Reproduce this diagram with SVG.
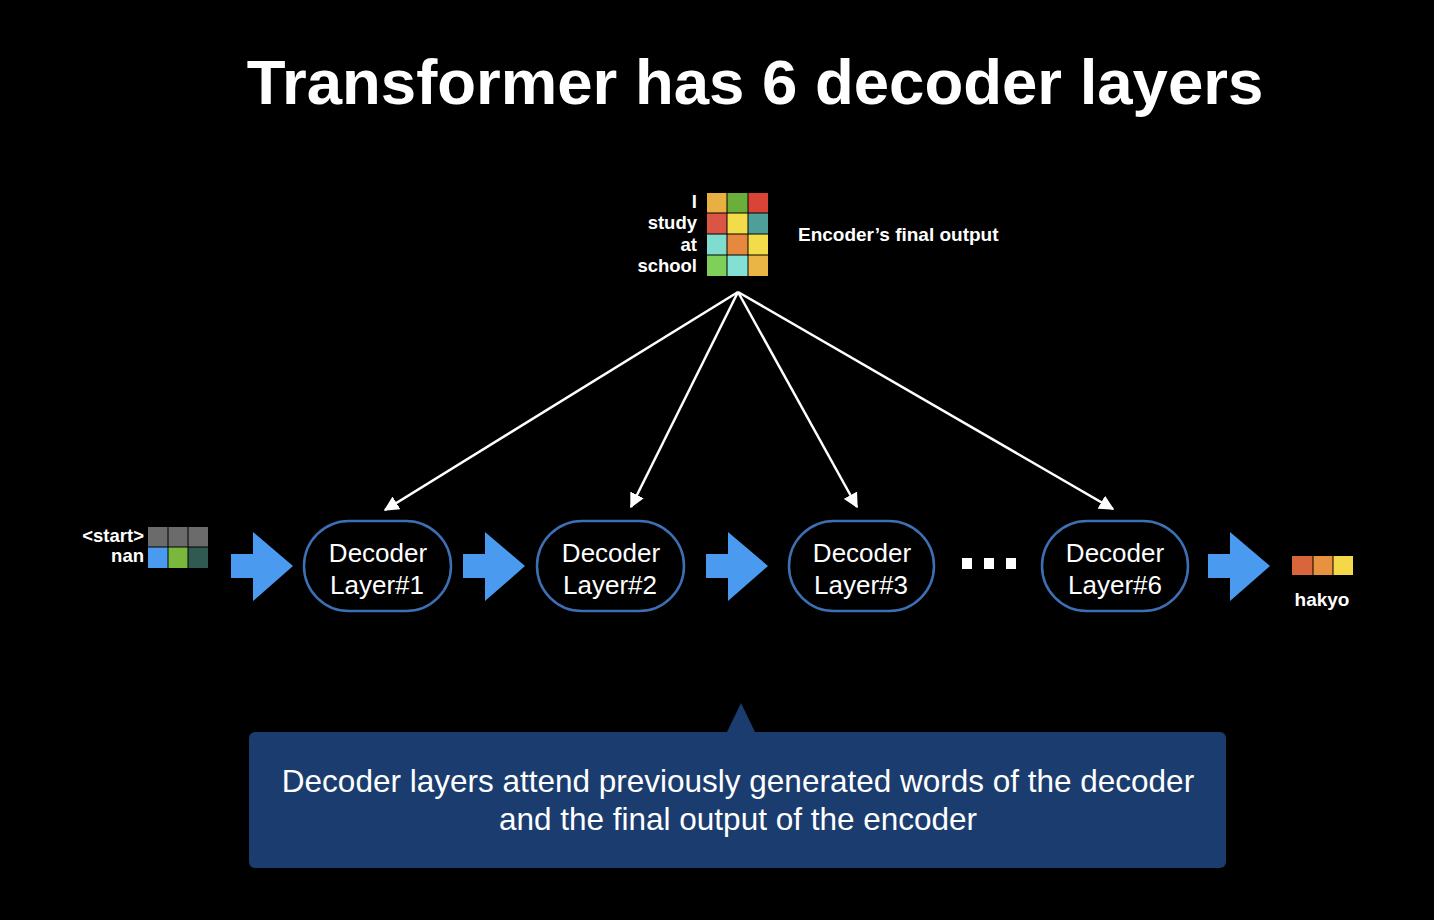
<svg xmlns="http://www.w3.org/2000/svg" width="1434" height="920" viewBox="0 0 1434 920">
<defs>
<style>
.t{font-family:"Liberation Sans",Arial,sans-serif;fill:#fff}
.node{fill:#000;stroke:#3C6FB4;stroke-width:2.5}
.nt{font-family:"Liberation Sans",Arial,sans-serif;fill:#fff;font-size:26px;text-anchor:middle}
.lbl{font-family:"Liberation Sans",Arial,sans-serif;fill:#fff;font-size:18.5px;font-weight:bold;text-anchor:end}
.conn{stroke:#fff;stroke-width:2.5;fill:none}
.barrow{fill:#4A9BEF}
</style>
<marker id="ah" viewBox="0 0 10 10" refX="9" refY="5" markerWidth="6" markerHeight="6" markerUnits="strokeWidth" orient="auto">
<path d="M0,0 L10,5 L0,10 z" fill="#fff"/>
</marker>
<path id="bar" d="M0,-12 L22,-12 L22,-34 L62,0 L22,35 L22,12 L0,12 z"/>
</defs>
<rect width="1434" height="920" fill="#000"/>

<text class="t" x="755" y="104" font-size="63.5" font-weight="bold" text-anchor="middle">Transformer has 6 decoder layers</text>

<g id="encoder-output">
<rect x="707" y="193" width="20" height="20" fill="#E8B040"/>
<rect x="727" y="193" width="21" height="20" fill="#6AAF3A"/>
<rect x="748" y="193" width="20" height="20" fill="#D94437"/>
<rect x="707" y="213" width="20" height="21" fill="#DB5544"/>
<rect x="727" y="213" width="21" height="21" fill="#F2DC4A"/>
<rect x="748" y="213" width="20" height="21" fill="#4E9E99"/>
<rect x="707" y="234" width="20" height="21" fill="#7FDCCF"/>
<rect x="727" y="234" width="21" height="21" fill="#E6883D"/>
<rect x="748" y="234" width="20" height="21" fill="#F3DC4A"/>
<rect x="707" y="255" width="20" height="21" fill="#7ED05A"/>
<rect x="727" y="255" width="21" height="21" fill="#84E0D4"/>
<rect x="748" y="255" width="20" height="21" fill="#EAB545"/>
<g stroke="#000" stroke-width="1" fill="none"><path d="M727,193V276M748,193V276M707,213H768M707,234H768M707,255H768"/></g>
<text class="lbl" x="697" y="208">I</text>
<text class="lbl" x="697" y="229">study</text>
<text class="lbl" x="697" y="251">at</text>
<text class="lbl" x="697" y="272">school</text>
<text class="t" x="798" y="241" font-size="19" font-weight="bold">Encoder’s final output</text>
</g>

<g id="connectors">
<line class="conn" x1="738" y1="292" x2="385" y2="510" marker-end="url(#ah)"/>
<line class="conn" x1="738" y1="292" x2="631" y2="507" marker-end="url(#ah)"/>
<line class="conn" x1="738" y1="292" x2="857" y2="507" marker-end="url(#ah)"/>
<line class="conn" x1="738" y1="292" x2="1113" y2="509" marker-end="url(#ah)"/>
<use href="#bar" class="barrow" x="231" y="566"/>
<use href="#bar" class="barrow" x="463" y="566"/>
<use href="#bar" class="barrow" x="706" y="566"/>
<use href="#bar" class="barrow" x="1208" y="566"/>
</g>

<g id="start-input">
<rect x="148" y="527" width="20" height="20" fill="#6B6B6B"/>
<rect x="168" y="527" width="20" height="20" fill="#6B6B6B"/>
<rect x="188" y="527" width="20" height="20" fill="#6B6B6B"/>
<rect x="148" y="547" width="20" height="21" fill="#4A9BEF"/>
<rect x="168" y="547" width="20" height="21" fill="#7AB83D"/>
<rect x="188" y="547" width="20" height="21" fill="#2F5A52"/>
<g stroke="#000" stroke-width="1" fill="none"><path d="M168,527V568M188,527V568M148,547H208"/></g>
<text class="lbl" x="144" y="542" font-size="18">&lt;start&gt;</text>
<text class="lbl" x="144" y="562" font-size="18">nan</text>
</g>

<g id="layer1">
<rect class="node" x="304" y="521" width="147" height="90" rx="45" ry="45"/>
<text class="nt" x="378" y="562">Decoder</text>
<text class="nt" x="377" y="594">Layer#1</text>
</g>
<g id="layer2">
<rect class="node" x="537" y="521" width="147" height="90" rx="45" ry="45"/>
<text class="nt" x="611" y="562">Decoder</text>
<text class="nt" x="610" y="594">Layer#2</text>
</g>
<g id="layer3">
<rect class="node" x="789" y="521" width="145" height="90" rx="45" ry="45"/>
<text class="nt" x="862" y="562">Decoder</text>
<text class="nt" x="861" y="594">Layer#3</text>
</g>
<g id="ellipsis" fill="#fff">
<rect x="962" y="558" width="10" height="11"/>
<rect x="984" y="558" width="10" height="11"/>
<rect x="1006" y="558" width="10" height="11"/>
</g>
<g id="layer6">
<rect class="node" x="1042" y="521" width="146" height="90" rx="45" ry="45"/>
<text class="nt" x="1115" y="562">Decoder</text>
<text class="nt" x="1115" y="594">Layer#6</text>
</g>

<g id="output">
<rect x="1292" y="556" width="21" height="19" fill="#D9663A"/>
<rect x="1313" y="556" width="20" height="19" fill="#E8923F"/>
<rect x="1333" y="556" width="20" height="19" fill="#F5D84A"/>
<g stroke="#000" stroke-width="1"><path d="M1313,556V575M1333,556V575"/></g>
<text class="t" x="1322" y="606" font-size="19" font-weight="bold" text-anchor="middle">hakyo</text>
</g>

<g id="callout">
<path d="M741,703 L755,732 L727,732 z" fill="#1B3C6E"/>
<rect x="249" y="732" width="977" height="136" rx="6" ry="6" fill="#1B3C6E"/>
<text class="t" x="738" y="792" font-size="31.5" text-anchor="middle">Decoder layers attend previously generated words of the decoder</text>
<text class="t" x="738" y="830" font-size="31.5" text-anchor="middle">and the final output of the encoder</text>
</g>
</svg>
